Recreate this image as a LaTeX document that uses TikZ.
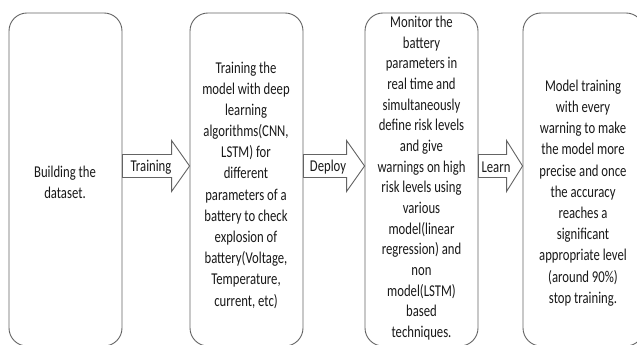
\documentclass[tikz,border=0pt]{standalone}
\usepackage{fontspec}
\setmainfont{Carlito}
\usetikzlibrary{calc}
\definecolor{edgegray}{RGB}{100,100,100}
\definecolor{txt}{RGB}{25,25,25}
\tikzset{
  stagebox/.style={draw=edgegray, line width=0.9pt, rounded corners=18pt, fill=white},
  stagetext/.style={align=center, text=txt, font=\fontsize{12.7}{16.3}\selectfont, yscale=1.3, transform shape, inner sep=0pt},
  tighttext/.style={stagetext, font=\fontsize{12.7}{15.9}\selectfont},
  blockarrow/.style={draw=edgegray, line width=0.9pt, fill=white, line join=miter},
  arrowlabel/.style={text=txt, font=\fontsize{12.7}{15}\selectfont, yscale=1.3, transform shape, inner sep=0pt}
}
\begin{document}
\begin{tikzpicture}[x=1pt,y=1pt]
\useasboundingbox (0,0) rectangle (637,345);
\clip (0,0) rectangle (637,345);
\fill[white] (0,0) rectangle (637,345);
% boxes
\node[stagebox, minimum width=113pt, minimum height=333pt] (b1) at (65.5,165.5) {};
\node[stagebox, minimum width=113pt, minimum height=333pt] (b2) at (246.5,165.5) {};
\node[stagebox, minimum width=113pt, minimum height=333pt] (b3) at (421.5,165.5) {};
\node[stagebox, minimum width=121pt, minimum height=333pt] (b4) at (583.5,165.5) {};
% texts
\node[stagetext] (t1) at (65,162.5) {Building the\\dataset.};
\node[stagetext] (t2) at (246,160) {Training the\\model with deep\\learning\\algorithms(CNN,\\LSTM) for\\different\\parameters of a\\battery to check\\explosion of\\battery(Voltage,\\Temperature,\\current, etc)};
\node[tighttext] (t3) at (421.5,167) {Monitor the\\battery\\parameters in\\real time and\\simultaneously\\define risk levels\\and give\\warnings on high\\risk levels using\\various\\model(linear\\regression) and\\non\\model(LSTM)\\based\\techniques.};
\node[stagetext] (t4) at (583,152) {Model training\\with every\\warning to make\\the model more\\precise and once\\the accuracy\\reaches a\\significant\\appropriate level\\(around 90\%)\\stop training.};
% arrows
\coordinate (ay) at (0,179);
\foreach \a/\b/\h in {b1/b2/18, b2/b3/18, b3/b4/16}{
  \draw[blockarrow]
    ($(\a.east|-ay)+(0,11.5)$) -- ($(\b.west|-ay)+(-\h,11.5)$) -- ($(\b.west|-ay)+(-\h,25.5)$)
    -- (\b.west|-ay)
    -- ($(\b.west|-ay)+(-\h,-25.5)$) -- ($(\b.west|-ay)+(-\h,-11.5)$) -- ($(\a.east|-ay)+(0,-11.5)$) -- cycle;
}
\node[arrowlabel] (l1) at (151,178) {Training};
\node[arrowlabel] (l2) at (328,178) {Deploy};
\node[arrowlabel] (l3) at (496,178) {Learn};
\end{tikzpicture}
\end{document}
